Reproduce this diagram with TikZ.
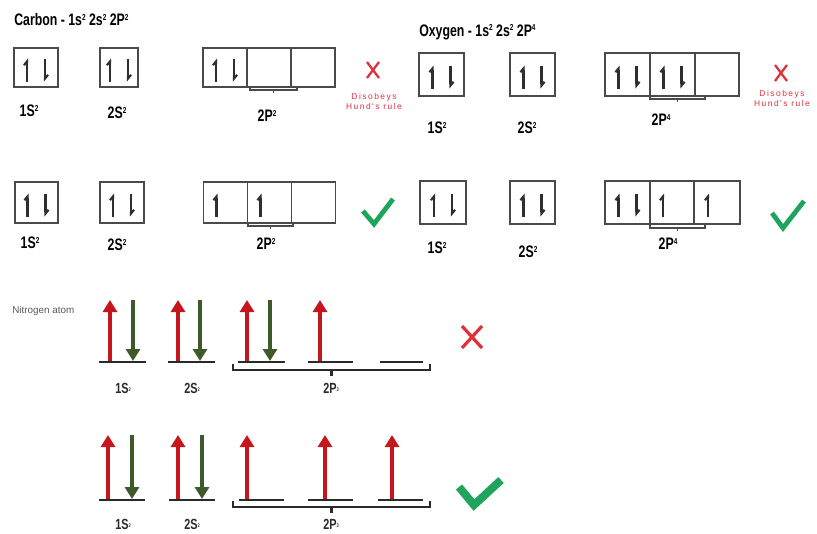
\documentclass[tikz,border=0pt]{standalone}
\usepackage{fontspec}
\setmainfont{Liberation Sans}
\newfontfamily\condfont[FakeStretch=0.74]{Liberation Sans}
\newfontfamily\spacedfont[LetterSpace=18]{Liberation Sans}
\usetikzlibrary{arrows.meta}

\definecolor{boxgrey}{HTML}{4A4A4A}
\definecolor{spingrey}{HTML}{2E2E2E}
\definecolor{badred}{HTML}{E0303A}
\definecolor{okgreen}{HTML}{1FA55B}
\definecolor{uparrow}{HTML}{C4161C}
\definecolor{dnarrow}{HTML}{3E5A2A}
\definecolor{levelgrey}{HTML}{2A2A2A}
\definecolor{notegrey}{HTML}{5A5A5A}

\tikzset{
  orbbox/.style={draw=boxgrey, line width=0.9pt, inner sep=0pt},
  spinup/.style={draw=spingrey, line width=1.6pt, -{Straight Barb[left,length=2.8pt,width=4.6pt]}},
  spindn/.style={draw=spingrey, line width=1.6pt, -{Straight Barb[left,length=2.8pt,width=4.6pt]}},
  brack/.style={draw=boxgrey, line width=0.9pt},
  title/.style={anchor=west, inner sep=0pt, font=\condfont\bfseries\fontsize{12.5}{12.5}\selectfont},
  sublabel/.style={inner sep=0pt, font=\condfont\bfseries\fontsize{12.5}{12.5}\selectfont},
  nlabel/.style={inner sep=0pt, font=\condfont\bfseries\fontsize{11}{11}\selectfont, text=levelgrey},
  hund/.style={inner sep=0pt, align=center, text=badred, font=\spacedfont\fontsize{6.3}{7.5}\selectfont},
  crossmark/.style={draw=badred, line width=1.7pt},
  tickmark/.style={draw=okgreen, line width=3.6pt, miter limit=3},
  level/.style={draw=levelgrey, line width=1.9pt},
  redup/.style={draw=uparrow, line width=3.6pt, -{Triangle[length=9pt,width=10.5pt]}},
  greendn/.style={draw=dnarrow, line width=3.6pt, -{Triangle[length=9pt,width=10.5pt]}},
  nbrack/.style={draw=levelgrey, line width=1.1pt},
}

% paired / single spins inside a named orbital box
\newcommand\pairspin[1]{%
  \draw[spinup] ([shift={(-9,14)}]#1.center) -- ([shift={(-9,-9)}]#1.center);
  \draw[spindn] ([shift={(9,-9)}]#1.center) -- ([shift={(9,14)}]#1.center);}
\newcommand\onespin[1]{%
  \draw[spinup] ([shift={(-9,14)}]#1.center) -- ([shift={(-9,-9)}]#1.center);}
% small bracket under a box: x1, x2, y
\newcommand\boxbrack[3]{%
  \draw[brack] (#1,#3-3) -- (#1,#3) -- (#2,#3) -- (#2,#3-3);
  \draw[brack] ({(#1+#2)/2},#3) -- ({(#1+#2)/2},#3+3);}
% wide bracket under the 2p levels: x1, x2, y
\newcommand\levbrack[3]{%
  \draw[nbrack] (#1,#3-6) -- (#1,#3) -- (#2,#3) -- (#2,#3-6);
  \draw[nbrack, line width=1.8pt] ({(#1+#2)/2},#3) -- ({(#1+#2)/2},#3+6);}
\newcommand\sm[1]{{\fontsize{6.5}{6.5}\selectfont\raisebox{4.2pt}{#1}}}
\newcommand\tinymark[1]{{\fontsize{4}{4}\selectfont\raisebox{1.5pt}{#1}}}

\begin{document}
\begin{tikzpicture}[x=0.75pt, y=-0.75pt]
\useasboundingbox[fill=white] (0,0) rectangle (817,533);

% ---------------- Carbon ----------------
\node[title] (ctitle) at (14,20) {Carbon - 1s\sm{2} 2s\sm{2} 2P\sm{2}};

% wrong filling
\node[orbbox, minimum width=44*0.75pt, minimum height=39*0.75pt] (ca1s) at (36,67.5) {};
\node[orbbox, minimum width=38*0.75pt, minimum height=39*0.75pt] (ca2s) at (119,67.5) {};
\node[orbbox, minimum width=44*0.75pt, minimum height=39*0.75pt] (ca2pa) at (225,67.5) {};
\node[orbbox, minimum width=44*0.75pt, minimum height=39*0.75pt] (ca2pb) at (269,67.5) {};
\node[orbbox, minimum width=44*0.75pt, minimum height=39*0.75pt] (ca2pc) at (313,67.5) {};
\pairspin{ca1s}\pairspin{ca2s}\pairspin{ca2pa}
\boxbrack{250}{297}{90}
\node[sublabel] (cal1) at (29,111) {1S\sm{2}};
\node[sublabel] (cal2) at (117,113) {2S\sm{2}};
\node[sublabel] (cal3) at (267,116) {2P\sm{2}};
\coordinate (cax) at (373,70);
\draw[crossmark] ([shift={(-6,-8)}]cax) -- ([shift={(6,8)}]cax);
\draw[crossmark] ([shift={(6,-8)}]cax) -- ([shift={(-6,8)}]cax);
\node[hund] (cahund) at (374,101) {Disobeys\\Hund's rule};

% correct filling
\node[orbbox, minimum width=43*0.75pt, minimum height=41*0.75pt] (cb1s) at (36.5,202.5) {};
\node[orbbox, minimum width=44*0.75pt, minimum height=41*0.75pt] (cb2s) at (122,202.5) {};
\node[orbbox, minimum width=44*0.75pt, minimum height=41*0.75pt] (cb2pa) at (225.5,202.5) {};
\node[orbbox, minimum width=44*0.75pt, minimum height=41*0.75pt] (cb2pb) at (269.5,202.5) {};
\node[orbbox, minimum width=44*0.75pt, minimum height=41*0.75pt] (cb2pc) at (313.5,202.5) {};
\pairspin{cb1s}\pairspin{cb2s}\onespin{cb2pa}\onespin{cb2pb}
\boxbrack{248}{293}{226}
\node[sublabel] (cbl1) at (30,243) {1S\sm{2}};
\node[sublabel] (cbl2) at (117,245) {2S\sm{2}};
\node[sublabel] (cbl3) at (266,244) {2P\sm{2}};
\draw[tickmark] (363,211) -- (374,224) -- (393,199);

% ---------------- Oxygen ----------------
\node[title] (otitle) at (419,32) {Oxygen - 1s\sm{2} 2s\sm{2} 2P\sm{4}};

% wrong filling
\node[orbbox, minimum width=45*0.75pt, minimum height=43*0.75pt] (oa1s) at (441.5,74.5) {};
\node[orbbox, minimum width=45*0.75pt, minimum height=43*0.75pt] (oa2s) at (532.5,74.5) {};
\node[orbbox, minimum width=45*0.75pt, minimum height=43*0.75pt] (oa2pa) at (627.5,74.5) {};
\node[orbbox, minimum width=45*0.75pt, minimum height=43*0.75pt] (oa2pb) at (672.5,74.5) {};
\node[orbbox, minimum width=44*0.75pt, minimum height=43*0.75pt] (oa2pc) at (717,74.5) {};
\pairspin{oa1s}\pairspin{oa2s}\pairspin{oa2pa}\pairspin{oa2pb}
\boxbrack{650}{705}{99}
\node[sublabel] (oal1) at (437,128) {1S\sm{2}};
\node[sublabel] (oal2) at (527,128) {2S\sm{2}};
\node[sublabel] (oal3) at (661,120) {2P\sm{4}};
\coordinate (oax) at (781,73);
\draw[crossmark] ([shift={(-6,-8)}]oax) -- ([shift={(6,8)}]oax);
\draw[crossmark] ([shift={(6,-8)}]oax) -- ([shift={(-6,8)}]oax);
\node[hund] (oahund) at (782,98) {Disobeys\\Hund's rule};

% correct filling
\node[orbbox, minimum width=46*0.75pt, minimum height=43*0.75pt] (ob1s) at (443,202.5) {};
\node[orbbox, minimum width=45*0.75pt, minimum height=43*0.75pt] (ob2s) at (532.5,202.5) {};
\node[orbbox, minimum width=45*0.75pt, minimum height=43*0.75pt] (ob2pa) at (627.5,202.5) {};
\node[orbbox, minimum width=44*0.75pt, minimum height=43*0.75pt] (ob2pb) at (672,202.5) {};
\node[orbbox, minimum width=46*0.75pt, minimum height=43*0.75pt] (ob2pc) at (717,202.5) {};
\pairspin{ob1s}\pairspin{ob2s}\pairspin{ob2pa}\onespin{ob2pb}\onespin{ob2pc}
\boxbrack{650}{705}{228}
\node[sublabel] (obl1) at (437,248) {1S\sm{2}};
\node[sublabel] (obl2) at (528,252) {2S\sm{2}};
\node[sublabel] (obl3) at (668,244) {2P\sm{4}};
\draw[tickmark] (772,213) -- (783,228) -- (804,201);

% ---------------- Nitrogen ----------------
\node[anchor=west, inner sep=0pt, text=notegrey, font=\fontsize{7.4}{7.5}\selectfont] (ntitle) at (12,311) {Nitrogen atom};

% wrong filling
\draw[level] (99,362) -- (146,362);
\draw[level] (168,362) -- (215,362);
\draw[level] (238,362) -- (285,362);
\draw[level] (308,362) -- (353,362);
\draw[level] (380,362) -- (423,362);
\draw[redup] (110,361) -- (110,300);
\draw[greendn] (133,300) -- (133,361);
\draw[redup] (178,361) -- (178,300);
\draw[greendn] (200,300) -- (200,361);
\draw[redup] (247,361) -- (247,300);
\draw[greendn] (270,300) -- (270,361);
\draw[redup] (320,361) -- (320,300);
\levbrack{233}{430}{370}
\node[nlabel] (nal1) at (123,388) {1S\tinymark{2}};
\node[nlabel] (nal2) at (192,388) {2S\tinymark{2}};
\node[nlabel] (nal3) at (331,388) {2P\tinymark{3}};
\coordinate (nax) at (472,337);
\draw[crossmark, line width=2.4pt] ([shift={(-10,-11)}]nax) -- ([shift={(10,11)}]nax);
\draw[crossmark, line width=2.4pt] ([shift={(10,-11)}]nax) -- ([shift={(-10,11)}]nax);

% correct filling
\draw[level] (99,500) -- (145,500);
\draw[level] (169,500) -- (215,500);
\draw[level] (239,500) -- (284,500);
\draw[level] (308,500) -- (353,500);
\draw[level] (378,500) -- (423,500);
\draw[redup] (108,499) -- (108,435);
\draw[greendn] (132,435) -- (132,499);
\draw[redup] (178,499) -- (178,435);
\draw[greendn] (202,435) -- (202,499);
\draw[redup] (247,499) -- (247,435);
\draw[redup] (325,499) -- (325,435);
\draw[redup] (392,499) -- (392,435);
\levbrack{233}{430}{507}
\node[nlabel] (nbl1) at (123,524) {1S\tinymark{2}};
\node[nlabel] (nbl2) at (192,524) {2S\tinymark{2}};
\node[nlabel] (nbl3) at (331,524) {2P\tinymark{3}};
\draw[tickmark, line width=6pt] (459,487) -- (474,505) -- (501,480);
\end{tikzpicture}
\end{document}
